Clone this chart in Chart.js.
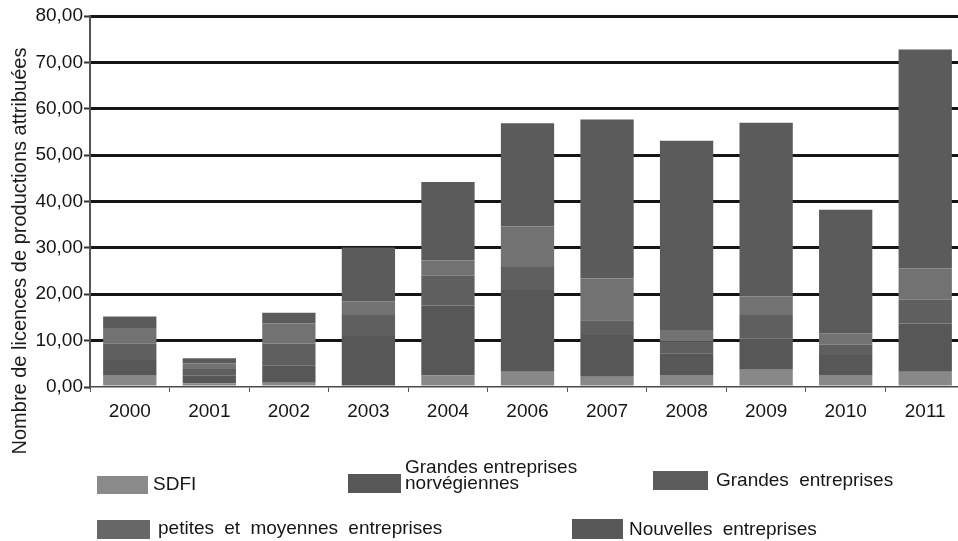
<!DOCTYPE html>
<html lang="fr">
<head>
<meta charset="utf-8">
<title>Licences de production attribuées</title>
<script src="https://cdn.jsdelivr.net/npm/chart.js@4.4.1/dist/chart.umd.min.js"></script>
<style>
  html, body { margin: 0; padding: 0; background: #fff; overflow: hidden; }
  #wrap { position: relative; width: 958px; height: 541px; overflow: hidden; }
  #c { position: absolute; left: 0; top: 0; }
  .sw { position: absolute; }
  .lt { position: absolute; font-family: "Liberation Sans", Arial, sans-serif; font-size: 19px;
        color: #161616; line-height: 20px; word-spacing: 5px; white-space: nowrap; }
  .lt.wrap { white-space: normal; width: 190px; line-height: 16px; word-spacing: 0; }
</style>
</head>
<body>
<div id="wrap">
  <canvas id="c" width="965" height="541"></canvas>
</div>
<script>
// Years with awards (no round in 2005)
const years = ['2000', '2001', '2002', '2003', '2004', '2006', '2007', '2008', '2009', '2010', '2011'];

// Licences awarded per company category
const sdfi       = [2.6, 0.8, 0.9, 0.0, 2.5, 3.3, 2.2, 2.6, 3.7, 2.6, 3.3];
const grandesNo  = [3.2, 1.6, 3.8, 11.0, 15.1, 17.6, 9.0, 4.7, 6.8, 4.3, 10.4];
const grandes    = [3.5, 1.5, 4.7, 4.5, 6.4, 5.0, 3.2, 2.5, 5.0, 2.2, 5.1];
const pme        = [3.4, 1.2, 4.3, 3.0, 3.3, 8.7, 9.0, 2.5, 4.0, 2.5, 6.8];
const nouvelles  = [2.5, 1.1, 2.3, 11.6, 16.9, 22.3, 34.3, 40.8, 37.5, 26.6, 47.2];

const seriesNames = ['SDFI', 'Grandes entreprises norvégiennes', 'Grandes entreprises',
                     'petites et moyennes entreprises', 'Nouvelles entreprises'];
const yTicks = [0, 10, 20, 30, 40, 50, 60, 70, 80];
const yTitle = 'Nombre de licences de productions attribuées';

const barColors    = ['#888888', '#575757', '#5f5f5f', '#727272', '#5b5b5b'];
const legendColors = ['#8a8a8a', '#575757', '#5c5c5c', '#676767', '#585858'];

const FONT = '"Liberation Sans", Arial, sans-serif';

// Rotated y-axis caption, placed a little below the plot's vertical centre
const yTitlePlugin = {
  id: 'yTitle',
  afterDraw(chart) {
    const ctx = chart.ctx;
    ctx.save();
    ctx.translate(26, 251);
    ctx.rotate(-Math.PI / 2);
    ctx.font = '20px ' + FONT;
    ctx.fillStyle = '#1c1c1c';
    ctx.textAlign = 'center';
    ctx.textBaseline = 'alphabetic';
    ctx.fillText(yTitle, 0, 0);
    ctx.restore();
  }
};

const seriesData = [sdfi, grandesNo, grandes, pme, nouvelles];

new Chart(document.getElementById('c'), {
  type: 'bar',
  data: {
    labels: years,
    datasets: seriesData.map((d, i) => ({
      label: seriesNames[i],
      data: d,
      backgroundColor: barColors[i],
      borderWidth: 0,
      barPercentage: 0.67,
      categoryPercentage: 1
    }))
  },
  options: {
    responsive: false,
    animation: false,
    layout: { padding: { top: 16, right: 0, left: 0, bottom: 0 } },
    plugins: { legend: { display: false }, tooltip: { enabled: false } },
    scales: {
      x: {
        stacked: true,
        afterFit(scale) { scale.height = 154; },
        grid: { drawOnChartArea: false, drawTicks: true, tickLength: 5, color: '#555', lineWidth: 1, offset: true },
        border: { display: true, color: '#4a4a4a', width: 1.5 },
        ticks: { font: { family: FONT, size: 19 }, color: '#151515', padding: 8, maxRotation: 0 }
      },
      y: {
        stacked: true,
        min: 0,
        max: 80,
        afterFit(scale) { scale.width = 90; },
        afterBuildTicks(scale) { scale.ticks = yTicks.map(v => ({ value: v })); },
        grid: {
          color: c => (c.tick && c.tick.value === 0) ? 'rgba(0,0,0,0)' : '#151515',
          lineWidth: 3,
          tickColor: '#333',
          tickWidth: 2,
          tickLength: 6
        },
        border: { display: true, color: '#555', width: 2 },
        ticks: {
          font: { family: FONT, size: 19 },
          color: '#151515',
          padding: 1,
          callback: v => v.toFixed(2).replace('.', ',')
        }
      }
    }
  },
  plugins: [yTitlePlugin]
});

// Legend laid out in two rows below the plot
const legendSlots = [
  { sw: [97, 476, 51, 18],  tx: [153, 474] },
  { sw: [348, 474, 53, 19], tx: [405, 459], wrap: true },
  { sw: [653, 471, 55, 19], tx: [716, 470] },
  { sw: [97, 520, 53, 19],  tx: [158, 518] },
  { sw: [572, 519, 51, 20], tx: [629, 519] }
];
const wrap = document.getElementById('wrap');
seriesNames.forEach((name, i) => {
  const s = legendSlots[i];
  const sw = document.createElement('div');
  sw.className = 'sw';
  sw.style.cssText = `left:${s.sw[0]}px;top:${s.sw[1]}px;width:${s.sw[2]}px;height:${s.sw[3]}px;background:${legendColors[i]};`;
  wrap.appendChild(sw);
  const t = document.createElement('div');
  t.className = 'lt' + (s.wrap ? ' wrap' : '');
  t.style.left = s.tx[0] + 'px';
  t.style.top = s.tx[1] + 'px';
  t.textContent = name;
  wrap.appendChild(t);
});
</script>
</body>
</html>
